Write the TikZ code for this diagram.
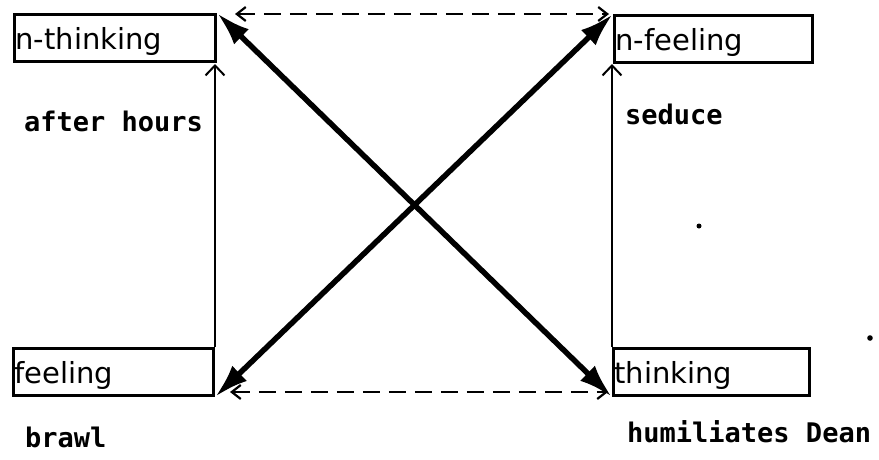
\documentclass[tikz,border=0pt]{standalone}
\usepackage{fontspec}
\setmainfont{DejaVu Sans}
\newfontfamily\twfont{DejaVu Sans Mono}
\usetikzlibrary{arrows.meta}
\begin{document}
\begin{tikzpicture}[x=1pt,y=-1pt,
  box/.style={draw,line width=3pt,anchor=north west,minimum height=47pt,
    inner xsep=1pt,inner ysep=0pt,align=left,text height=25pt,text depth=3pt,
    font=\fontsize{29}{32}\selectfont},
  lab/.style={anchor=base west,inner sep=0pt,font=\twfont\bfseries\fontsize{27}{30}\selectfont},
  thin/.style={line width=2pt,-{Straight Barb[length=10pt,width=19pt]}},
  dsh/.style={line width=2.2pt,dash pattern=on 17pt off 9pt,
    {Straight Barb[length=9pt,width=14pt]}-{Straight Barb[length=9pt,width=14pt]}},
  thick/.style={line width=5.5pt,{Latex[length=34pt,width=21pt]}-{Latex[length=34pt,width=21pt]}}]
\useasboundingbox (0,0) rectangle (879,459);
% boxes
\node[box,text width=199pt] (nt) at (13,13) {n-thinking};
\node[box,text width=196pt] (nf) at (613,14) {n-feeling};
\node[box,text width=198pt] (fe) at (12,347) {feeling};
\node[box,text width=194pt] (th) at (612,347) {thinking};
% vertical arrows
\draw[thin] (fe.north east) -- (fe.north east |- 0,64);
\draw[thin] (th.north west) -- (th.north west |- 0,64);
% dashed arrows
\coordinate (tl) at (235,14);
\coordinate (tr) at (609,14);
\coordinate (bl) at (230,392);
\coordinate (br) at (608,392);
\draw[dsh] (tl) -- (tr);
\draw[dsh] (bl) -- (br);
% diagonals
\draw[thick] (nt.north east) -- (th.south west);
\draw[thick] (nf.north west) -- (fe.south east);
% labels
\node[lab] (ah) at (24,131) {after hours};
\node[lab] (sd) at (625,124) {seduce};
\node[lab] (bw) at (25,447) {brawl};
\node[lab] (hd) at (627,442) {humiliates Dean};
% specks
\fill (699,226) circle (2.5pt);
\fill (870,338) circle (2.8pt);
\end{tikzpicture}
\end{document}
